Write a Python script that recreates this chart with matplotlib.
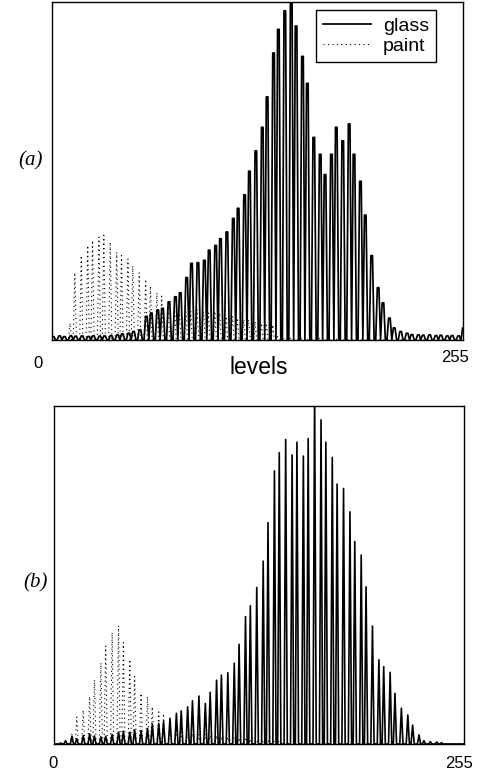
import numpy as np
import matplotlib.pyplot as plt

# grey levels where the (quantised) histograms have their peaks
spike_levels = [0, 4, 7, 11, 14, 18, 22, 25, 29, 32, 36, 40, 43, 47, 50, 54, 58, 61,
                65, 68, 72, 76, 79, 83, 86, 90, 94, 97, 101, 104, 108, 112, 115, 119,
                122, 126, 130, 133, 137, 140, 144, 148, 151, 155, 158, 162, 166, 169,
                173, 176, 180, 184, 187, 191, 194, 198, 202, 205, 209, 212, 216, 220,
                223, 227, 230, 234, 238, 241, 245, 248, 252]

# (a) heights, normalised to the plot height
glass_a = [0.010, 0.012, 0.010, 0.012, 0.011, 0.012, 0.010, 0.012, 0.011, 0.012,
           0.013, 0.015, 0.018, 0.020, 0.025, 0.030, 0.070, 0.080, 0.089, 0.094,
           0.113, 0.128, 0.140, 0.185, 0.227, 0.229, 0.236, 0.266, 0.280, 0.300,
           0.320, 0.360, 0.390, 0.430, 0.500, 0.560, 0.630, 0.720, 0.850, 0.920,
           0.975, 1.020, 0.930, 0.840, 0.760, 0.600, 0.550, 0.490, 0.550, 0.630,
           0.590, 0.640, 0.550, 0.470, 0.370, 0.250, 0.155, 0.110, 0.065, 0.036,
           0.025, 0.020, 0.016, 0.015, 0.014, 0.015, 0.013, 0.014, 0.012, 0.013,
           0.012]
glass_a_last = 0.035
paint_a = [0.0, 0.0, 0.010, 0.050, 0.200, 0.250, 0.280, 0.295, 0.305, 0.310,
           0.290, 0.260, 0.250, 0.240, 0.220, 0.200, 0.180, 0.160, 0.140, 0.130,
           0.100, 0.090, 0.085, 0.085, 0.085, 0.090, 0.085, 0.080, 0.085, 0.080,
           0.070, 0.070, 0.065, 0.060, 0.060, 0.055, 0.050, 0.050, 0.045, 0.010,
           0.005, 0.005, 0.005, 0.005, 0.005, 0.005, 0.005, 0.005, 0.005, 0.005,
           0.005] + [0.0] * 20

# (b)
glass_b = [0.0, 0.003, 0.010, 0.023, 0.015, 0.025, 0.030, 0.024, 0.021, 0.023,
           0.028, 0.035, 0.038, 0.035, 0.042, 0.040, 0.046, 0.059, 0.061, 0.066,
           0.076, 0.091, 0.098, 0.110, 0.128, 0.142, 0.120, 0.153, 0.189, 0.204,
           0.211, 0.239, 0.295, 0.377, 0.409, 0.463, 0.541, 0.655, 0.808, 0.862,
           0.901, 0.855, 0.893, 0.852, 0.904, 1.050, 0.959, 0.893, 0.848, 0.769,
           0.756, 0.687, 0.599, 0.559, 0.465, 0.349, 0.249, 0.229, 0.212, 0.150,
           0.106, 0.086, 0.056, 0.027, 0.010, 0.007, 0.006, 0.004, 0.0, 0.0, 0.0]
paint_b = [0.0, 0.0, 0.005, 0.030, 0.080, 0.100, 0.140, 0.190, 0.240, 0.290,
           0.330, 0.350, 0.300, 0.250, 0.200, 0.150, 0.140, 0.110, 0.095, 0.090,
           0.060, 0.040, 0.035, 0.030, 0.030, 0.028, 0.030, 0.025, 0.025, 0.022,
           0.020, 0.020, 0.018, 0.015, 0.015, 0.013, 0.012, 0.012, 0.010, 0.010,
           0.008] + [0.0] * 30

levels = np.arange(256)
sl = np.array(spike_levels)


def hist(vals, wide=False):
    h = np.zeros(256)
    h[sl] = vals
    if wide:
        h[sl + 1] = vals
    return h


ga = hist(glass_a, wide=True)
ga[255] = glass_a_last
pa = hist(paint_a)
gb = hist(glass_b)
pb = hist(paint_b)

fig = plt.figure(figsize=(4.89, 7.78), dpi=100)
ax1 = fig.add_axes([0.107, 0.563, 0.839, 0.434])
ax2 = fig.add_axes([0.111, 0.0437, 0.838, 0.4344])

dot = (0, (1, 3))
ax1.plot(levels, ga, '-', color='black', lw=1.25, label='glass')
ax1.plot(levels, pa, color='black', lw=0.8, ls=dot, label='paint')
ax2.plot(levels, gb, '-', color='black', lw=1.2)
ax2.plot(levels, pb, color='black', lw=0.8, ls=dot)

for ax in (ax1, ax2):
    ax.set_xlim(0, 255)
    ax.set_ylim(0, 1)
    ax.set_xticks([])
    ax.set_yticks([])
    for s in ax.spines.values():
        s.set_linewidth(1.0)

leg = ax1.legend(loc='upper right', bbox_to_anchor=(0.935, 0.977), frameon=True,
                 fancybox=False, edgecolor='black', framealpha=1,
                 prop={'family': 'Liberation Sans', 'size': 14},
                 handlelength=2.5, borderpad=0.35, labelspacing=0.15,
                 handletextpad=0.6, borderaxespad=0)
leg.get_frame().set_linewidth(1.0)

tfont = {'family': 'Liberation Sans', 'size': 12}
fig.text(38 / 489, 1 - 364 / 778, '0', ha='center', va='center', **tfont)
fig.text(455 / 489, 1 - 358 / 778, '255', ha='center', va='center', **tfont)
fig.text(259 / 489, 1 - 367 / 778, 'levels', ha='center', va='center',
         family='Liberation Sans', size=16.5)
fig.text(53 / 489, 1 - 764 / 778, '0', ha='center', va='center', **tfont)
fig.text(459 / 489, 1 - 764 / 778, '255', ha='center', va='center', **tfont)

lfont = {'family': 'Liberation Serif', 'style': 'italic', 'size': 15}
fig.text(31 / 489, 1 - 161 / 778, '(a)', ha='center', va='center', **lfont)
fig.text(36 / 489, 1 - 583 / 778, '(b)', ha='center', va='center', **lfont)

fig.savefig('out.png', dpi=100)
